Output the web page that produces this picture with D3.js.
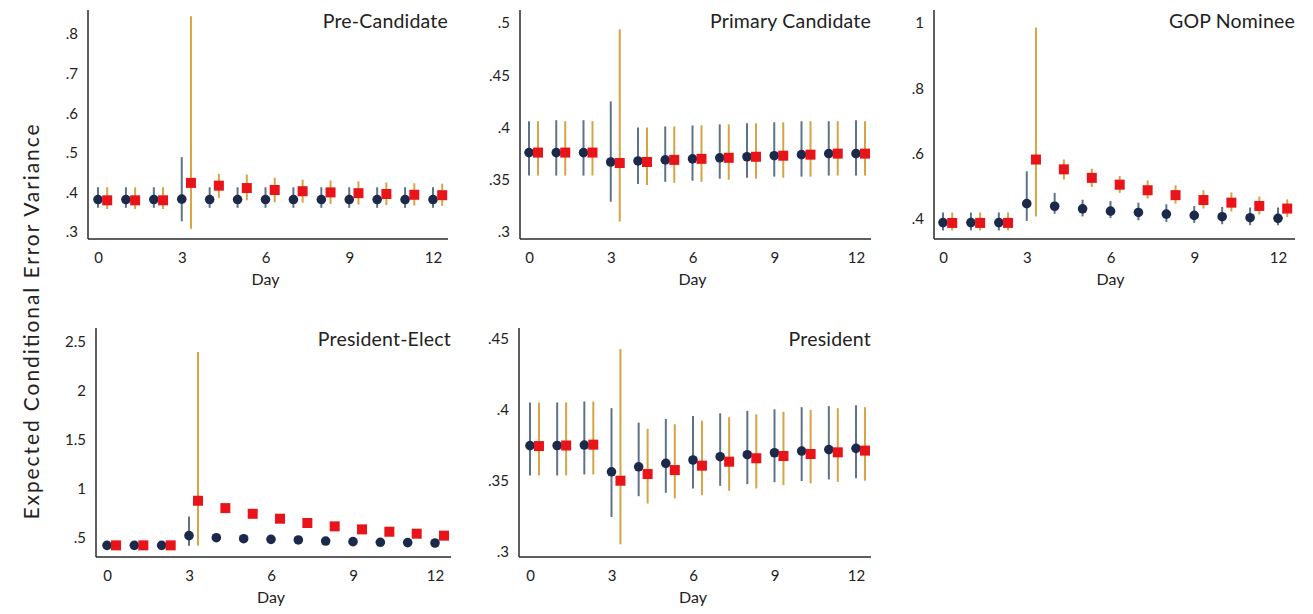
<!DOCTYPE html>
<html><head><meta charset="utf-8">
<script src="https://cdn.jsdelivr.net/npm/d3@7"></script>
<style>
html,body{margin:0;padding:0;background:#fff;}
text{font-family:Lato,"Open Sans",sans-serif;fill:#222;}
</style></head>
<body><svg id="c" width="1313" height="614"></svg>
<script>
const days = [0,1,2,3,4,5,6,7,8,9,10,11,12];
const xTicks = [0,3,6,9,12];

// Pre-Candidate
const preTicks = [0.3,0.4,0.5,0.6,0.7,0.8];
const preCirc   = [0.382,0.382,0.382,0.383,0.382,0.382,0.382,0.382,0.382,0.382,0.382,0.382,0.382];
const preCircLo = [0.361,0.361,0.361,0.327,0.361,0.361,0.361,0.361,0.361,0.361,0.361,0.361,0.361];
const preCircHi = [0.413,0.413,0.413,0.489,0.413,0.413,0.413,0.413,0.413,0.413,0.413,0.413,0.413];
const preSq     = [0.380,0.380,0.380,0.424,0.417,0.411,0.406,0.403,0.400,0.398,0.396,0.394,0.393];
const preSqLo   = [0.358,0.358,0.358,0.308,0.386,0.380,0.375,0.374,0.371,0.369,0.368,0.367,0.366];
const preSqHi   = [0.413,0.413,0.413,0.845,0.447,0.445,0.437,0.432,0.430,0.428,0.425,0.423,0.422];

// Primary Candidate
const priTicks = [0.3,0.35,0.4,0.45,0.5];
const priCirc   = [0.376,0.376,0.376,0.367,0.368,0.369,0.370,0.371,0.372,0.373,0.374,0.375,0.375];
const priCircLo = [0.354,0.354,0.354,0.329,0.346,0.348,0.349,0.351,0.352,0.353,0.353,0.354,0.354];
const priCircHi = [0.406,0.407,0.407,0.425,0.400,0.401,0.402,0.403,0.404,0.405,0.406,0.406,0.407];
const priSq     = [0.376,0.376,0.376,0.366,0.367,0.369,0.370,0.371,0.372,0.373,0.374,0.375,0.375];
const priSqLo   = [0.354,0.354,0.354,0.310,0.345,0.347,0.348,0.350,0.351,0.352,0.353,0.354,0.354];
const priSqHi   = [0.406,0.406,0.406,0.494,0.400,0.401,0.402,0.403,0.404,0.405,0.406,0.406,0.406];

// GOP Nominee
const gopTicks = [0.4,0.6,0.8,1];
const gopCirc   = [0.389,0.389,0.389,0.447,0.439,0.431,0.424,0.420,0.415,0.411,0.407,0.404,0.402];
const gopCircLo = [0.365,0.365,0.365,0.394,0.416,0.408,0.403,0.396,0.391,0.388,0.384,0.381,0.381];
const gopCircHi = [0.420,0.420,0.420,0.546,0.480,0.459,0.455,0.450,0.445,0.440,0.437,0.435,0.435];
const gopSq     = [0.388,0.388,0.388,0.582,0.552,0.526,0.505,0.488,0.473,0.458,0.450,0.440,0.432];
const gopSqLo   = [0.365,0.365,0.365,0.408,0.521,0.498,0.480,0.462,0.447,0.432,0.423,0.414,0.406];
const gopSqHi   = [0.420,0.420,0.420,0.986,0.582,0.554,0.532,0.518,0.503,0.488,0.481,0.469,0.460];

// President-Elect
const peTicks = [0.5,1,1.5,2,2.5];
const peCirc   = [0.425,0.425,0.425,0.524,0.503,0.493,0.486,0.480,0.469,0.463,0.456,0.453,0.449];
const peCircLo = [0.410,0.410,0.410,0.420,0.485,0.476,0.470,0.464,0.454,0.448,0.442,0.439,0.436];
const peCircHi = [0.442,0.442,0.442,0.720,0.522,0.511,0.503,0.497,0.485,0.479,0.471,0.468,0.463];
const peSq     = [0.425,0.425,0.425,0.880,0.805,0.747,0.697,0.653,0.619,0.588,0.564,0.544,0.524];
const peSqLo   = [0.410,0.410,0.410,0.422,0.780,0.725,0.677,0.634,0.601,0.571,0.548,0.528,0.509];
const peSqHi   = [0.442,0.442,0.442,2.398,0.832,0.770,0.718,0.673,0.638,0.606,0.581,0.561,0.540];

// President
const prTicks = [0.3,0.35,0.4,0.45];
const prCirc   = [0.3749,0.3750,0.3753,0.3565,0.3600,0.3624,0.3648,0.3671,0.3685,0.3699,0.3711,0.3721,0.3730];
const prCircLo = [0.3539,0.3539,0.3546,0.3247,0.3393,0.3417,0.3447,0.3466,0.3478,0.3492,0.3500,0.3511,0.3520];
const prCircHi = [0.4053,0.4053,0.4060,0.4013,0.3911,0.3937,0.3958,0.3977,0.3994,0.4005,0.4020,0.4027,0.4034];
const prSq     = [0.3746,0.3750,0.3756,0.3502,0.3549,0.3577,0.3608,0.3636,0.3660,0.3676,0.3690,0.3702,0.3714];
const prSqLo   = [0.3539,0.3539,0.3546,0.3054,0.3341,0.3377,0.3400,0.3431,0.3447,0.3471,0.3483,0.3494,0.3502];
const prSqHi   = [0.4053,0.4053,0.4060,0.4429,0.3867,0.3900,0.3925,0.3949,0.3970,0.3987,0.4001,0.4013,0.4020];

const titles = ["Pre-Candidate","Primary Candidate","GOP Nominee","President-Elect","President"];
const yTitle = "Expected Conditional Error Variance";
const xTitle = "Day";

const panels = [
  {title:titles[0], ticks:preTicks, c:preCirc, cl:preCircLo, ch:preCircHi, s:preSq, sl:preSqLo, sh:preSqHi,
   ax:88, right:448, x0:98, x12:433, top:10, base:239, yr:[232,34]},
  {title:titles[1], ticks:priTicks, c:priCirc, cl:priCircLo, ch:priCircHi, s:priSq, sl:priSqLo, sh:priSqHi,
   ax:520, right:871, x0:529, x12:856, top:10, base:239, yr:[232,23]},
  {title:titles[2], ticks:gopTicks, c:gopCirc, cl:gopCircLo, ch:gopCircHi, s:gopSq, sl:gopSqLo, sh:gopSqHi,
   ax:934, right:1295, x0:943, x12:1278, top:10, base:239, yr:[219,23]},
  {title:titles[3], ticks:peTicks, c:peCirc, cl:peCircLo, ch:peCircHi, s:peSq, sl:peSqLo, sh:peSqHi,
   ax:96, right:451, x0:107, x12:435, top:328, base:557, yr:[538,342]},
  {title:titles[4], ticks:prTicks, c:prCirc, cl:prCircLo, ch:prCircHi, s:prSq, sl:prSqLo, sh:prSqHi,
   ax:519, right:871, x0:530, x12:856, top:328, base:557, yr:[552,339]}
];

const svg = d3.select("#c");
const fmt = v => { let s = String(+v.toFixed(3)); return s.replace(/^0\./, "."); };
const OFF = 0.33;
const COL = {circ:"#1b2a4a", circBar:"#5e7486", sq:"#e8141a", sqBar:"#d6a443"};

panels.forEach(p => {
  const g = svg.append("g");
  const x = d3.scaleLinear().domain([0,12]).range([p.x0,p.x12]);
  const y = d3.scaleLinear().domain([p.ticks[0], p.ticks[p.ticks.length-1]]).range(p.yr);

  g.append("line").attr("x1",p.ax).attr("x2",p.ax).attr("y1",p.top).attr("y2",p.base)
    .attr("stroke","#2a2a2a").attr("stroke-width",1.5);
  g.append("line").attr("x1",p.ax).attr("x2",p.right).attr("y1",p.base).attr("y2",p.base)
    .attr("stroke","#2a2a2a").attr("stroke-width",1.5);

  const yAxis = d3.axisLeft(y).tickValues(p.ticks).tickFormat(fmt).tickSize(0).tickPadding(10);
  const ya = g.append("g").attr("transform",`translate(${p.ax},0)`).call(yAxis);
  ya.select(".domain").remove();
  ya.selectAll("text").attr("font-size",15).attr("font-family","Lato, sans-serif").attr("fill","#222");

  const xAxis = d3.axisBottom(x).tickValues(xTicks).tickFormat(d3.format("d")).tickSize(0).tickPadding(13);
  const xa = g.append("g").attr("transform",`translate(0,${p.base})`).call(xAxis);
  xa.select(".domain").remove();
  xa.selectAll("text").attr("font-size",15).attr("font-family","Lato, sans-serif").attr("fill","#222");

  g.append("text").attr("x",(p.x0+p.x12)/2).attr("y",p.base+46).attr("text-anchor","middle")
    .attr("font-size",16).text(xTitle);

  g.append("text").attr("x",p.right).attr("y",p.top+18).attr("text-anchor","end")
    .attr("font-size",19.5).attr("letter-spacing",0.2).text(p.title);

  g.selectAll(".cb").data(days).enter().append("line")
    .attr("x1",d=>x(d)).attr("x2",d=>x(d)).attr("y1",d=>y(p.cl[d])).attr("y2",d=>y(p.ch[d]))
    .attr("stroke",COL.circBar).attr("stroke-width",2);
  g.selectAll(".sb").data(days).enter().append("line")
    .attr("x1",d=>x(d+OFF)).attr("x2",d=>x(d+OFF)).attr("y1",d=>y(p.sl[d])).attr("y2",d=>y(p.sh[d]))
    .attr("stroke",COL.sqBar).attr("stroke-width",2);

  g.selectAll(".cm").data(days).enter().append("circle")
    .attr("cx",d=>x(d)).attr("cy",d=>y(p.c[d])).attr("r",4.8).attr("fill",COL.circ);
  g.selectAll(".sm").data(days).enter().append("rect")
    .attr("x",d=>x(d+OFF)-5).attr("y",d=>y(p.s[d])-5).attr("width",10).attr("height",10).attr("fill",COL.sq);
});

svg.append("text").attr("transform","translate(39,322) rotate(-90)").attr("text-anchor","middle")
  .attr("font-size",21).attr("textLength",395).attr("lengthAdjust","spacing").text(yTitle);
</script>
</body></html>
